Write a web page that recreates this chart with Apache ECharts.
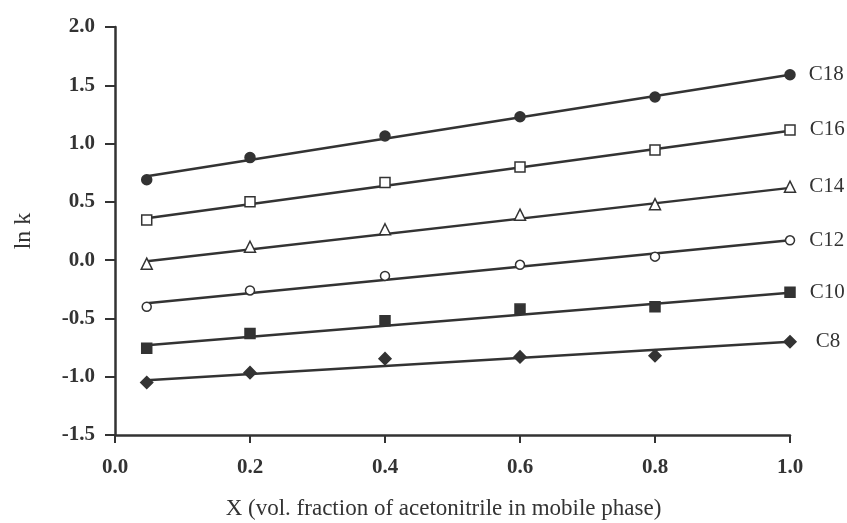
<!DOCTYPE html>
<html>
<head>
<meta charset="utf-8">
<script src="https://cdn.jsdelivr.net/npm/echarts@6/dist/echarts.min.js"></script>
<style>
  html, body { margin: 0; padding: 0; background: #fff; }
  #chart { width: 847px; height: 523px; }
</style>
</head>
<body>
<div id="chart"></div>
<script>
// x positions (vol. fraction of acetonitrile)
const xValues = [0.047, 0.2, 0.4, 0.6, 0.8, 1.0];
const seriesNames = ['C18', 'C16', 'C14', 'C12', 'C10', 'C8'];

// measured ln k
const c18 = [0.69, 0.88, 1.065, 1.23, 1.40, 1.59];
const c16 = [0.345, 0.50, 0.665, 0.80, 0.945, 1.117];
const c14 = [-0.03, 0.115, 0.265, 0.39, 0.48, 0.63];
const c12 = [-0.40, -0.26, -0.135, -0.04, 0.03, 0.17];
const c10 = [-0.755, -0.63, -0.52, -0.42, -0.40, -0.275];
const c8 = [-1.05, -0.965, -0.845, -0.83, -0.82, -0.70];

// fitted line end points [at first x, at last x]
const fitX = [0.047, 1.0];
const fit18 = [0.72, 1.59];
const fit16 = [0.36, 1.11];
const fit14 = [-0.01, 0.62];
const fit12 = [-0.37, 0.17];
const fit10 = [-0.73, -0.28];
const fit8 = [-1.03, -0.70];

const ink = '#333333';
const serif = '"Liberation Serif", "DejaVu Serif", serif';

const measured = [c18, c16, c14, c12, c10, c8];
const fits = [fit18, fit16, fit14, fit12, fit10, fit8];
const marks = [
  { symbol: 'circle', size: 10, fill: ink },
  { symbol: 'rect', size: 10, fill: '#fff' },
  { symbol: 'triangle', size: 11, fill: '#fff' },
  { symbol: 'circle', size: 9, fill: '#fff' },
  { symbol: 'rect', size: 10, fill: ink },
  { symbol: 'diamond', size: 12, fill: ink }
];
const labelGap = [13, 14, 13, 14, 14, 19];

const series = [];
seriesNames.forEach((name, i) => {
  series.push({
    type: 'line',
    name: name + ' fit',
    data: fitX.map((x, k) => [x, fits[i][k]]),
    showSymbol: false,
    silent: true,
    lineStyle: { color: ink, width: 2.5 },
    z: 2
  });
  series.push({
    type: 'scatter',
    name: name,
    symbol: marks[i].symbol,
    symbolSize: marks[i].size,
    itemStyle: { color: marks[i].fill, borderColor: ink, borderWidth: 1.5, opacity: 1 },
    data: xValues.map((x, k) => {
      const item = { value: [x, measured[i][k]] };
      if (k === xValues.length - 1) {
        item.label = {
          show: true, position: 'right', distance: labelGap[i],
          formatter: name, color: ink, fontFamily: serif, fontSize: 21
        };
      }
      return item;
    }),
    z: 3
  });
});

const chart = echarts.init(document.getElementById('chart'));
chart.setOption({
  animation: false,
  backgroundColor: '#fff',
  grid: { left: 115, right: 57, top: 27, bottom: 88, outerBoundsMode: 'none' },
  xAxis: {
    type: 'value', min: 0, max: 1, interval: 0.2,
    name: 'X (vol. fraction of acetonitrile in mobile phase)',
    nameLocation: 'middle', nameGap: 62,
    nameTextStyle: { color: ink, fontFamily: serif, fontSize: 23, padding: [0, 18, 0, 0] },
    axisLine: { onZero: false, lineStyle: { color: ink, width: 2.5 } },
    axisTick: { lineStyle: { color: ink, width: 2 }, length: 8 },
    axisLabel: {
      color: ink, fontFamily: serif, fontSize: 21, fontWeight: 'bold', margin: 22,
      formatter: v => v.toFixed(1)
    },
    splitLine: { show: false }
  },
  yAxis: {
    type: 'value', min: -1.5, max: 2.0, interval: 0.5,
    name: 'ln k',
    nameLocation: 'middle', nameGap: 79, nameRotate: 90,
    nameTextStyle: { color: ink, fontFamily: serif, fontSize: 24 },
    axisLine: { show: true, onZero: false, lineStyle: { color: ink, width: 2.5 } },
    axisTick: { show: true, lineStyle: { color: ink, width: 2 }, length: 10 },
    axisLabel: {
      color: ink, fontFamily: serif, fontSize: 21, fontWeight: 'bold', margin: 20,
      formatter: v => v.toFixed(1)
    },
    splitLine: { show: false }
  },
  series: series
});
</script>
</body>
</html>
